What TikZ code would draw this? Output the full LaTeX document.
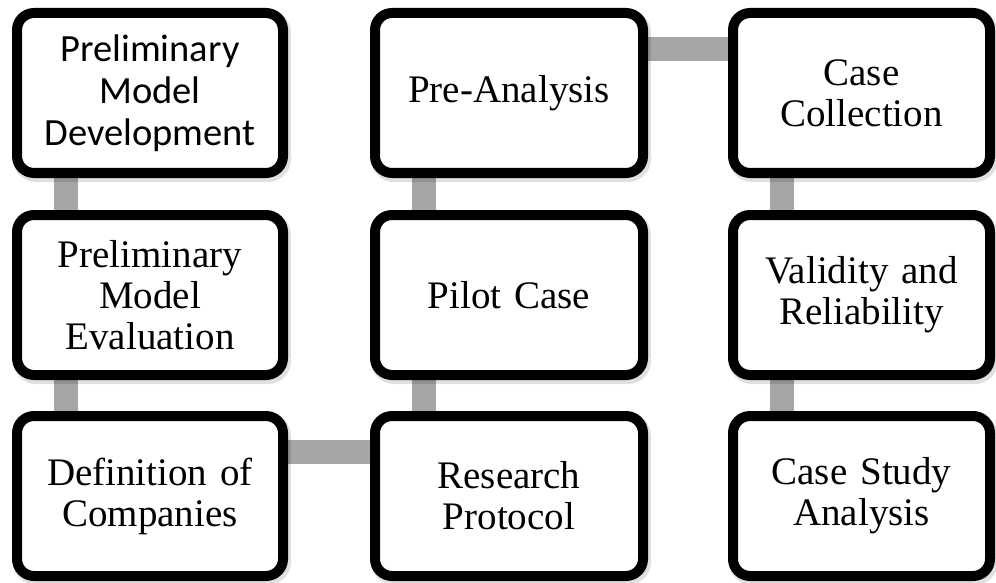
\documentclass[tikz,border=0pt]{standalone}
\usepackage{fontspec}
\setmainfont{Liberation Serif}
\newfontfamily\calibrifont{Carlito}
\usetikzlibrary{backgrounds,shadows}
\begin{document}
\begin{tikzpicture}[x=1pt,y=-1pt,
  stepbox/.style={draw=black, fill=white, line width=10pt, rounded corners=17pt,
    align=center, inner sep=0pt, text width=250pt,
    font=\fontsize{39pt}{41pt}\selectfont,
    drop shadow={shadow xshift=2pt, shadow yshift=-3pt, draw=black, line width=12pt, fill=black, opacity=0.12}},
  wbox/.style={stepbox, minimum width=266pt, minimum height=160pt},
  mbox/.style={stepbox, minimum width=268pt, minimum height=160pt},
  nbox/.style={stepbox, minimum width=257pt, minimum height=160pt},
  link/.style={draw=black!35, line width=24pt, line cap=butt}]
\useasboundingbox (0,0) rectangle (996,583);
% column 1
\node[wbox, font=\calibrifont\fontsize{38.5pt}{42pt}\selectfont] (a) at (150,93) {Preliminary\\Model\\Development};
\node[wbox] (b) at (150,295) {Preliminary\\Model\\Evaluation};
\node[wbox] (c) at (150,496) {Definition of\\Companies};
% column 2
\node[mbox] (d) at (509,496) {Research\\Protocol};
\node[mbox] (e) at (509,295) {Pilot Case};
\node[mbox] (f) at (509,93) {Pre-Analysis};
% column 3
\node[nbox] (g) at (861.5,93) {Case\\Collection};
\node[nbox] (h) at (861.5,295) {Validity and\\Reliability};
\node[nbox] (i) at (861.5,496) {Case Study\\Analysis};
\begin{scope}[on background layer]
\fill[white] (0,0) rectangle (996,583);
\draw[link] ([xshift=54pt]a.south west) -- ([xshift=54pt]b.north west);
\draw[link] ([xshift=54pt]b.south west) -- ([xshift=54pt]c.north west);
\draw[link] ([yshift=-41pt]c.north east) -- ([yshift=-41pt]d.north west);
\draw[link] ([xshift=54pt]d.north west) -- ([xshift=54pt]e.south west);
\draw[link] ([xshift=54pt]e.north west) -- ([xshift=54pt]f.south west);
\draw[link] ([yshift=-41pt]f.north east) -- ([yshift=-41pt]g.north west);
\draw[link] ([xshift=54pt]g.south west) -- ([xshift=54pt]h.north west);
\draw[link] ([xshift=54pt]h.south west) -- ([xshift=54pt]i.north west);
\end{scope}
\end{tikzpicture}
\end{document}
